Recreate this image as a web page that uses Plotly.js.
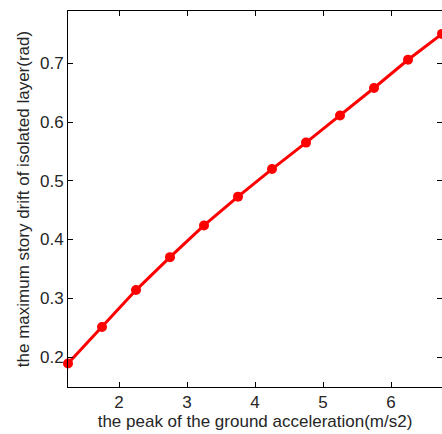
<!DOCTYPE html>
<html>
<head>
<meta charset="utf-8">
<script src="https://cdn.plot.ly/plotly-3.0.1.min.js"></script>
<style>html,body{margin:0;padding:0;background:#fff;}#chart{width:442px;height:434px;}</style>
</head>
<body>
<div id="chart"></div>
<script>
const pga = [1.25, 1.75, 2.25, 2.75, 3.25, 3.75, 4.25, 4.75, 5.25, 5.75, 6.25, 6.75];
const drift = [0.189, 0.251, 0.314, 0.370, 0.424, 0.473, 0.520, 0.565, 0.611, 0.658, 0.706, 0.750];
const xTicks = [2, 3, 4, 5, 6];
const yTicks = [0.2, 0.3, 0.4, 0.5, 0.6, 0.7];
const xTitle = 'the peak of the ground acceleration(m/s2)';
const yTitle = 'the maximum story drift of isolated layer(rad)';

const font = {family: 'Liberation Sans, Arial, sans-serif', size: 17, color: '#262626'};
const axisCommon = {
  showline: true, linecolor: '#000', linewidth: 1, mirror: 'ticks',
  ticks: 'inside', ticklen: 5, tickcolor: '#000', tickwidth: 1,
  showgrid: false, zeroline: false, tickfont: font
};
Plotly.newPlot('chart', [{
  x: pga, y: drift, type: 'scatter', mode: 'lines+markers',
  line: {color: '#ff0000', width: 3},
  marker: {color: '#ff0000', size: 10, symbol: 'circle'},
  cliponaxis: false
}], {
  width: 442, height: 434,
  margin: {l: 68, r: 0, t: 11, b: 47},
  paper_bgcolor: '#fff', plot_bgcolor: '#fff',
  showlegend: false,
  font: font,
  xaxis: Object.assign({}, axisCommon, {
    range: [1.25, 6.75], tickvals: xTicks, ticktext: xTicks.map(String),
    title: {text: xTitle, font: font, standoff: 2}
  }),
  yaxis: Object.assign({}, axisCommon, {
    range: [0.149, 0.789], tickvals: yTicks, ticktext: yTicks.map(v => v.toFixed(1)),
    title: {text: yTitle, font: font, standoff: 6}
  })
}, {staticPlot: true});
</script>
</body>
</html>
